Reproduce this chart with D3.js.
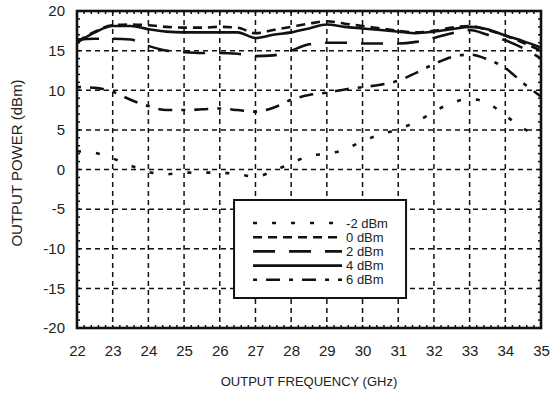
<!DOCTYPE html>
<html>
<head>
<meta charset="utf-8">
<script src="https://cdn.jsdelivr.net/npm/d3@7"></script>
<style>
  body { margin: 0; background: #fff; }
  text { font-family: Arial, "Liberation Sans", sans-serif; fill: #222; }
</style>
</head>
<body>
<div id="chart"></div>
<script>
// output frequency (GHz)
let freqs = [22, 22.5, 23, 23.5, 24, 24.5, 25, 25.5, 26, 26.5, 27, 27.5, 28, 28.5, 29, 29.5, 30, 30.5, 31, 31.5, 32, 32.5, 33, 33.5, 34, 34.5, 35];

// output power (dBm) for each input drive level
let pinM2 = [2.3, 2.1, 1.4, 0.5, -0.3, -0.6, -0.4, -0.4, -0.4, -0.6, -0.9, -0.2, 0.8, 1.7, 2.0, 2.5, 3.6, 4.4, 5.1, 6.0, 7.3, 8.4, 8.9, 8.4, 6.8, 5.2, 3.9];
let pin0 = [16.1, 17.4, 18.2, 18.3, 18.2, 18.0, 17.9, 17.9, 18.0, 17.9, 17.2, 17.6, 18.0, 18.4, 18.7, 18.4, 18.1, 17.8, 17.5, 17.3, 17.5, 17.9, 18.1, 17.6, 16.9, 16.0, 15.0];
let pin2 = [16.4, 16.5, 16.5, 16.4, 15.6, 15.0, 14.8, 14.7, 14.7, 14.6, 14.3, 14.4, 15.0, 15.8, 16.0, 16.0, 15.9, 15.9, 15.9, 16.1, 16.6, 17.2, 17.6, 17.0, 16.3, 15.3, 14.0];
let pin4 = [16.0, 17.3, 18.1, 18.1, 17.7, 17.4, 17.3, 17.3, 17.3, 17.3, 16.6, 17.0, 17.3, 17.8, 18.3, 18.0, 17.8, 17.6, 17.4, 17.2, 17.4, 17.7, 18.0, 17.7, 16.9, 16.2, 15.4];
let pin6 = [10.4, 10.3, 9.8, 8.8, 8.0, 7.5, 7.5, 7.6, 7.7, 7.5, 7.3, 7.8, 8.8, 9.4, 9.7, 10.1, 10.4, 10.7, 11.2, 12.2, 13.3, 14.2, 14.5, 13.9, 12.8, 10.9, 9.2];

let seriesNames = ["-2 dBm", "0 dBm", "2 dBm", "4 dBm", "6 dBm"];
let xTicks = [22, 23, 24, 25, 26, 27, 28, 29, 30, 31, 32, 33, 34, 35];
let yTicks = [-20, -15, -10, -5, 0, 5, 10, 15, 20];

let width = 553, height = 396;
let margin = { top: 11, right: 12, bottom: 68, left: 77 };
let w = width - margin.left - margin.right;
let h = height - margin.top - margin.bottom;

let svg = d3.select("#chart").append("svg")
    .attr("width", width)
    .attr("height", height);

let g = svg.append("g")
    .attr("transform", `translate(${margin.left},${margin.top})`);

let x = d3.scaleLinear().domain([22, 35]).range([0, w]);
let y = d3.scaleLinear().domain([-20, 20]).range([h, 0]);

// grid
g.selectAll(".vgrid")
    .data(xTicks.slice(1, -1))
    .enter().append("line")
    .attr("x1", d => x(d)).attr("x2", d => x(d))
    .attr("y1", 0).attr("y2", h)
    .attr("stroke", "#111")
    .attr("stroke-width", 1.5)
    .attr("stroke-dasharray", "5,4");

g.selectAll(".hgrid")
    .data(yTicks.slice(1, -1))
    .enter().append("line")
    .attr("x1", 0).attr("x2", w)
    .attr("y1", d => y(d)).attr("y2", d => y(d))
    .attr("stroke", "#111")
    .attr("stroke-width", 1.5)
    .attr("stroke-dasharray", "5,4");

// minor ticks on the frame
let minorX = d3.range(22, 35.001, 0.2);
let minorY = d3.range(-20, 20.001, 1);
let tickLen = 3;
[0, h].forEach(function (yy) {
    g.selectAll(null).data(minorX).enter().append("line")
        .attr("x1", d => x(d)).attr("x2", d => x(d))
        .attr("y1", yy).attr("y2", yy === 0 ? tickLen : h - tickLen)
        .attr("stroke", "#111").attr("stroke-width", 1.5);
});
[0, w].forEach(function (xx) {
    g.selectAll(null).data(minorY).enter().append("line")
        .attr("y1", d => y(d)).attr("y2", d => y(d))
        .attr("x1", xx).attr("x2", xx === 0 ? tickLen : w - tickLen)
        .attr("stroke", "#111").attr("stroke-width", 1.5);
});

// axes labels (numbers), plain hyphen for negatives
let fmt = d => String(d);

let xAxis = g.append("g")
    .attr("transform", `translate(0,${h})`)
    .call(d3.axisBottom(x).tickValues(xTicks).tickSize(0).tickPadding(17).tickFormat(fmt));
xAxis.select(".domain").remove();
xAxis.selectAll("text").attr("font-size", "15px").attr("font-family", "Arial, 'Liberation Sans', sans-serif").attr("fill", "#222");

let yAxis = g.append("g")
    .call(d3.axisLeft(y).tickValues(yTicks).tickSize(0).tickPadding(12).tickFormat(fmt));
yAxis.select(".domain").remove();
yAxis.selectAll("text").attr("font-size", "15px").attr("font-family", "Arial, 'Liberation Sans', sans-serif").attr("fill", "#222");

// axis titles
svg.append("text")
    .attr("x", margin.left + w / 2)
    .attr("y", 386)
    .attr("text-anchor", "middle")
    .attr("font-size", "13px")
    .text("OUTPUT FREQUENCY (GHz)");

svg.append("text")
    .attr("transform", `translate(22,163) rotate(-90)`)
    .attr("text-anchor", "middle")
    .attr("font-size", "15px")
    .text("OUTPUT POWER (dBm)");

// series
let dashes = ["4,15", "9,6", "22,14", null, "4,9,14,9"];
let allSeries = [pinM2, pin0, pin2, pin4, pin6];

let line = d3.line()
    .x((d, i) => x(freqs[i]))
    .y(d => y(d))
    .curve(d3.curveMonotoneX);

// draw back to front so solid line sits on top of dashed ones
let order = [4, 2, 0, 1, 3];
order.forEach(function (k) {
    g.append("path")
        .datum(allSeries[k])
        .attr("fill", "none")
        .attr("stroke", "#111")
        .attr("stroke-width", 2.6)
        .attr("stroke-dasharray", dashes[k])
        .attr("d", line);
});

// frame
g.append("rect")
    .attr("width", w).attr("height", h)
    .attr("fill", "none")
    .attr("stroke", "#111")
    .attr("stroke-width", 2.6);

// legend
let legend = g.append("g")
    .attr("transform", `translate(${x(26.4)},${y(-3.85)})`);

legend.append("rect")
    .attr("width", 172).attr("height", 98)
    .attr("fill", "#fff")
    .attr("stroke", "#111")
    .attr("stroke-width", 2);

seriesNames.forEach(function (name, i) {
    let yy = 23 + i * 14.2;
    legend.append("line")
        .attr("x1", 19).attr("x2", 108)
        .attr("y1", yy).attr("y2", yy)
        .attr("stroke", "#111")
        .attr("stroke-width", 2.6)
        .attr("stroke-dasharray", dashes[i]);
    legend.append("text")
        .attr("x", 112)
        .attr("y", yy + 4.5)
        .attr("font-size", "13px")
        .text(name);
});
</script>
</body>
</html>
